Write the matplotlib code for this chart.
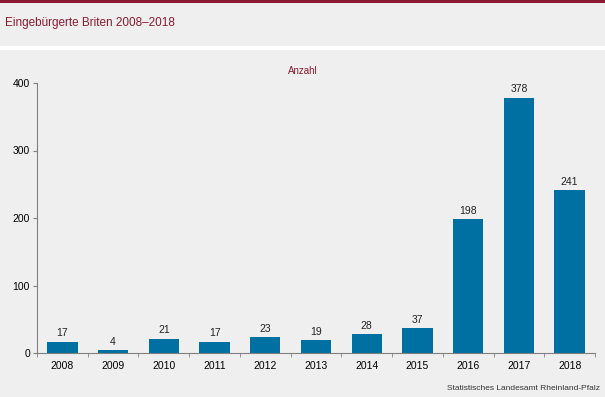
import numpy as np
import matplotlib.pyplot as plt

plt.rcParams['font.family'] = ['Liberation Sans', 'DejaVu Sans']

jahre = ['2008', '2009', '2010', '2011', '2012', '2013', '2014', '2015', '2016', '2017', '2018']
anzahl = [17, 4, 21, 17, 23, 19, 28, 37, 198, 378, 241]

BG = '#eeefee'
ROT = '#8b1a32'
BLAU = '#0070a3'

fig = plt.figure(figsize=(6.05, 3.97), dpi=100, facecolor=BG)

# Kopfzeile: roter Strich oben, weisser Trennstreifen unter dem Titel
fig.add_artist(plt.Rectangle((0, 1 - 3 / 397), 1, 3 / 397, transform=fig.transFigure,
                             color=ROT, lw=0))
fig.add_artist(plt.Rectangle((0, 1 - 50 / 397), 1, 4 / 397, transform=fig.transFigure,
                             color='white', lw=0))
fig.text(5 / 605, 1 - 23 / 397, 'Eingebürgerte Briten 2008\u20132018', color=ROT,
         fontsize=8.5, va='center', ha='left')

ax = fig.add_axes([37 / 605, 1 - 353 / 397, 558 / 605, 270 / 397])
ax.set_facecolor(BG)
x = np.arange(len(jahre))
ax.bar(x, anzahl, width=0.6, color=BLAU)
for xi, v in zip(x, anzahl):
    ax.text(xi, v + 5, str(v), ha='center', va='bottom', fontsize=7.5, color='#222222')

ax.set_xlim(-0.5, len(jahre) - 0.5)
ax.set_ylim(0, 400)
ax.set_yticks([0, 100, 200, 300, 400])
ax.set_xticks(x)
ax.set_xticklabels(jahre)
ax.set_xticks(np.arange(-0.5, len(jahre)), minor=True)
ax.tick_params(axis='x', which='major', length=0, pad=6, labelsize=7.5)
ax.tick_params(axis='x', which='minor', length=3, color='#808080')
ax.tick_params(axis='y', length=3, color='#808080', labelsize=7.5, pad=2)
for s in ['top', 'right']:
    ax.spines[s].set_visible(False)
for s in ['left', 'bottom']:
    ax.spines[s].set_color('#808080')

fig.text(303 / 605, 1 - 71 / 397, 'Anzahl', color=ROT, fontsize=7, ha='center', va='center')
fig.text(600 / 605, 1 - 388 / 397, 'Statistisches Landesamt Rheinland-Pfalz', color='#333333',
         fontsize=6, ha='right', va='center')

fig.savefig('out.png', dpi=100, facecolor=BG)
